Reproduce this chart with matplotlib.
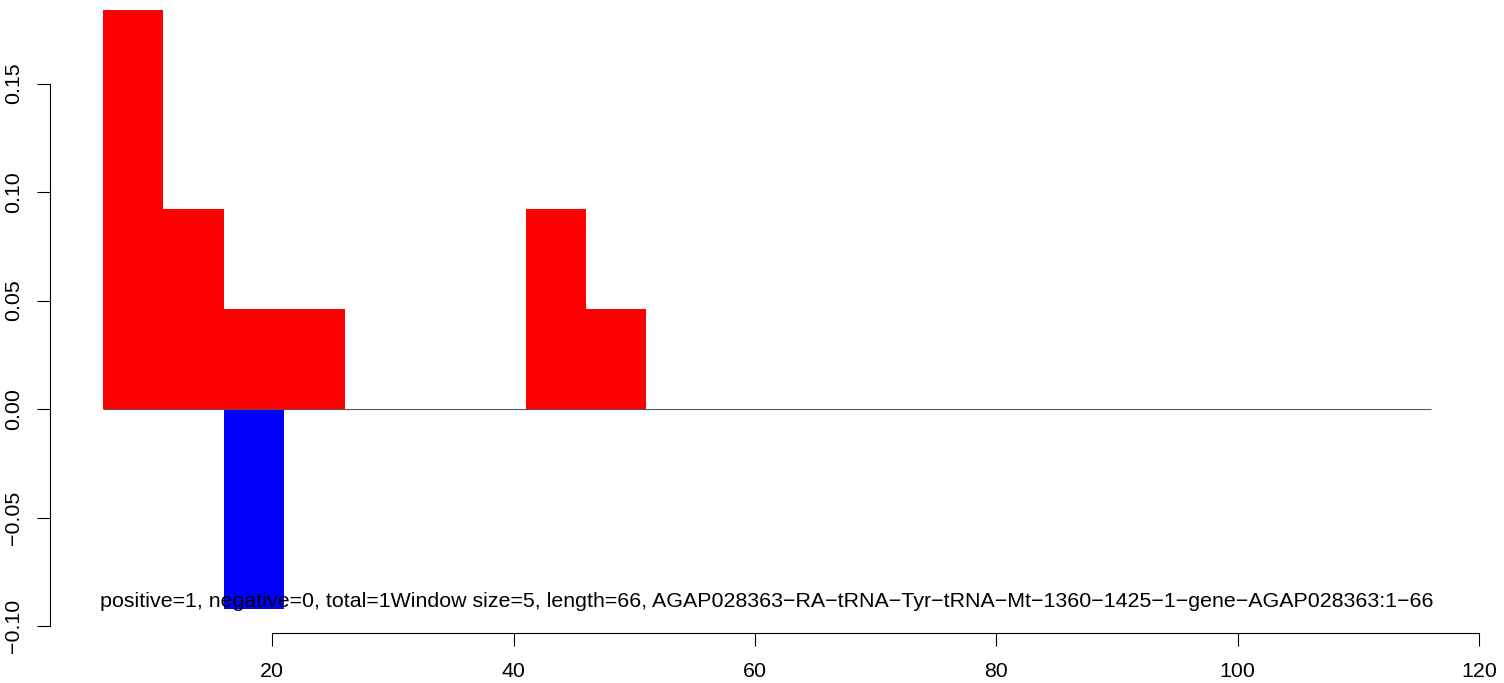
import matplotlib.pyplot as plt

plt.rcParams['font.family'] = ['Liberation Sans', 'DejaVu Sans']

# window starts (size 5) and scores
pos_x = [6, 11, 16, 21, 41, 46]
pos_y = [0.184, 0.092, 0.046, 0.046, 0.092, 0.046]
neg_x = [16]
neg_y = [-0.092]
win = 5
line_start, line_end = 6, 116
label = ("positive=1, negative=0, total=1Window size=5, length=66, "
         "AGAP028363\u2212RA\u2212tRNA\u2212Tyr\u2212tRNA\u2212Mt\u22121360\u22121425\u22121\u2212gene\u2212AGAP028363:1\u221266")
xticks = [20, 40, 60, 80, 100, 120]
yticks = [-0.10, -0.05, 0.00, 0.05, 0.10, 0.15]

fig = plt.figure(figsize=(15.04, 6.83), dpi=100)
ax = fig.add_axes([50 / 1504, 1 - 632.6 / 683, 1434 / 1504, 646.8 / 683])

ax.bar(pos_x, pos_y, width=win, align='edge', color='red', linewidth=0)
ax.bar(neg_x, neg_y, width=win, align='edge', color='blue', linewidth=0)
ax.hlines(0, line_start, line_end, color='#555555', linewidth=0.75)
ax.text((line_start + line_end) / 2, -0.0886, label, ha='center', va='center', fontsize=15.4, zorder=5)

ax.set_xlim(1.6, 120.4)
ax.set_ylim(-0.10304, 0.19504)

for s in ['top', 'right']:
    ax.spines[s].set_visible(False)
ax.spines['bottom'].set_bounds(20, 120)
ax.spines['left'].set_bounds(-0.10, 0.15)
for s in ['bottom', 'left']:
    ax.spines[s].set_linewidth(0.8)

ax.set_xticks(xticks)
ax.set_xticklabels([str(t) for t in xticks])
ax.set_yticks(yticks)
ax.set_yticklabels(['\u22120.10', '\u22120.05', '0.00', '0.05', '0.10', '0.15'], rotation=90, va='center')
ax.tick_params(direction='out', length=9.4, width=0.8, labelsize=15.4)
ax.tick_params(axis='x', pad=12)
ax.tick_params(axis='y', pad=10)

fig.savefig('out.png', dpi=100)
